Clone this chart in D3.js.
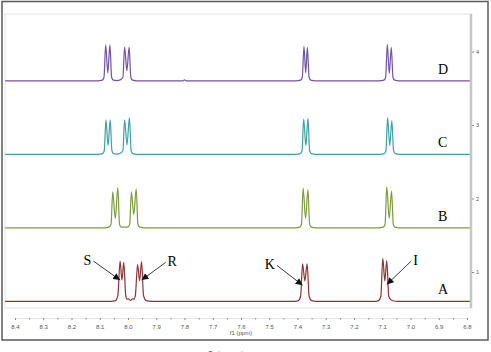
<!DOCTYPE html>
<html>
<head>
<meta charset="utf-8">
<script src="https://cdn.jsdelivr.net/npm/d3@7/dist/d3.min.js"></script>
<style>
  body { margin: 0; background: #fff; }
  svg { display: block; }
  .xaxis text, .yaxis text { font-family: "Liberation Sans", Arial, sans-serif; fill: #555; }
  .xaxis line, .yaxis line { stroke: #888; }
</style>
</head>
<body>
<div id="chart"></div>
<script>
// ppm ticks along the bottom, intensity ticks on the right
var ppmTicks = [8.4, 8.3, 8.2, 8.1, 8.0, 7.9, 7.8, 7.7, 7.6, 7.5, 7.4, 7.3, 7.2, 7.1, 7.0, 6.9, 6.8];
var ppmMinor = [8.35, 8.25, 8.15, 8.05, 7.95, 7.85, 7.75, 7.65, 7.55, 7.45, 7.35, 7.25, 7.15, 7.05, 6.95, 6.85];
var intTicks = [1, 2, 3, 4];

var traceNames = ["A", "B", "C", "D"];
var traceOffsets = [0.6, 1.6, 2.6, 3.6];
var traceColors = ["#8a3535", "#7b9c3f", "#3da2a2", "#7252a2"];

// spectra: [ppm, intensity]
var specA = [
  [8.435, 0], [8.060, 0], [8.045, 0.01], [8.036, 0.08], [8.028, 0.55], [8.0215, 0.29], [8.015, 0.53],
  [8.008, 0.08], [8.003, 0.03], [7.998, 0.035], [7.991, 0.015], [7.984, 0.035], [7.979, 0.03],
  [7.974, 0.08], [7.966, 0.50], [7.959, 0.28], [7.952, 0.54], [7.945, 0.08], [7.935, 0.01], [7.915, 0],
  [7.410, 0], [7.397, 0.01], [7.389, 0.07], [7.382, 0.51], [7.374, 0.28], [7.366, 0.51], [7.359, 0.07],
  [7.350, 0.01], [7.335, 0],
  [7.125, 0], [7.113, 0.01], [7.105, 0.07], [7.098, 0.585], [7.091, 0.28], [7.084, 0.555], [7.077, 0.07],
  [7.068, 0.02], [7.060, 0.005], [7.045, 0], [6.790, 0]
];
var specB = [
  [8.435, 0], [8.082, 0], [8.068, 0.01], [8.060, 0.05], [8.054, 0.49], [8.045, 0.13], [8.036, 0.55],
  [8.030, 0.05], [8.024, 0.01], [8.012, 0.01], [8.001, 0.01], [7.994, 0.05], [7.988, 0.49], [7.9795, 0.18],
  [7.971, 0.53], [7.965, 0.05], [7.958, 0.01], [7.940, 0],
  [7.408, 0], [7.392, 0.01], [7.386, 0.05], [7.380, 0.54], [7.3715, 0.13], [7.363, 0.52], [7.357, 0.05],
  [7.351, 0.01], [7.335, 0],
  [7.112, 0], [7.096, 0.01], [7.090, 0.05], [7.084, 0.56], [7.0755, 0.13], [7.067, 0.50], [7.061, 0.05],
  [7.055, 0.01], [7.039, 0], [6.790, 0]
];
var specC = [
  [8.435, 0], [8.106, 0], [8.090, 0.01], [8.084, 0.05], [8.078, 0.47], [8.0705, 0.12], [8.063, 0.47],
  [8.057, 0.05], [8.051, 0.01], [8.040, 0.005], [8.030, 0.01], [8.018, 0.05], [8.012, 0.47], [8.0035, 0.13],
  [7.995, 0.50], [7.989, 0.05], [7.983, 0.01], [7.968, 0],
  [7.406, 0], [7.390, 0.01], [7.384, 0.05], [7.378, 0.48], [7.3705, 0.12], [7.363, 0.49], [7.357, 0.05],
  [7.351, 0.01], [7.335, 0],
  [7.109, 0], [7.093, 0.01], [7.087, 0.05], [7.081, 0.50], [7.0735, 0.12], [7.066, 0.46], [7.060, 0.05],
  [7.054, 0.01], [7.038, 0], [6.790, 0]
];
var specD = [
  [8.435, 0], [8.107, 0], [8.091, 0.01], [8.085, 0.05], [8.079, 0.49], [8.0715, 0.11], [8.064, 0.49],
  [8.058, 0.05], [8.052, 0.01], [8.040, 0.005], [8.030, 0.01], [8.018, 0.05], [8.012, 0.46], [8.004, 0.14],
  [7.996, 0.46], [7.990, 0.05], [7.984, 0.01], [7.969, 0],
  [7.806, 0], [7.800, 0.015], [7.794, 0],
  [7.405, 0], [7.389, 0.01], [7.383, 0.05], [7.377, 0.47], [7.371, 0.11], [7.365, 0.455], [7.359, 0.05],
  [7.353, 0.01], [7.337, 0],
  [7.110, 0], [7.094, 0.01], [7.088, 0.05], [7.082, 0.495], [7.075, 0.10], [7.068, 0.455], [7.062, 0.05],
  [7.056, 0.01], [7.040, 0], [6.790, 0]
];
var spectra = [specA, specB, specC, specD];

// labelled peaks on trace A: [label, ppm of text, intensity of text, ppm of arrow tip, intensity of tip]
var peakLabels = [
  ["S", 8.13, 0.55, 8.028, 0.29],
  ["R", 7.86, 0.53, 7.952, 0.29],
  ["K", 7.48, 0.49, 7.382, 0.22],
  ["I", 6.99, 0.55, 7.084, 0.23]
];

var W = 491, H = 352;
var svg = d3.select("#chart").append("svg")
    .attr("width", W)
    .attr("height", H);

svg.append("defs").append("marker")
    .attr("id", "arrow")
    .attr("viewBox", "0 0 10 10")
    .attr("refX", 10).attr("refY", 5)
    .attr("markerWidth", 7).attr("markerHeight", 7)
    .attr("markerUnits", "userSpaceOnUse")
    .attr("orient", "auto")
  .append("path")
    .attr("d", "M0,0L10,5L0,10z")
    .attr("fill", "#111");

var x = d3.scaleLinear().domain([8.4, 6.8]).range([15, 467]);
var y = d3.scaleLinear().domain([1, 4]).range([272, 51.5]);

// outer border and inner frame
svg.append("rect")
    .attr("x", 2).attr("y", 1.5).attr("width", 486).attr("height", 338.5)
    .attr("fill", "none").attr("stroke", "#5a5a5a").attr("stroke-width", 1.5);
svg.append("rect")
    .attr("x", 5).attr("y", 14).attr("width", 466).attr("height", 294)
    .attr("fill", "none").attr("stroke", "#e4e4e4").attr("stroke-width", 1);
svg.append("line")
    .attr("x1", 471).attr("x2", 471).attr("y1", 14).attr("y2", 308)
    .attr("stroke", "#c6c6c6").attr("stroke-width", 2.5);

// x axis
var gx = svg.append("g").attr("class", "xaxis")
    .attr("transform", "translate(0,318)")
    .call(d3.axisBottom(x).tickValues(ppmTicks).tickSize(2).tickPadding(5).tickFormat(d3.format(".1f")));
gx.select(".domain").attr("stroke", "#e8e8e8");
gx.selectAll("text").style("font-size", "6px");
svg.append("g").attr("class", "xaxis")
    .attr("transform", "translate(0,318)")
    .call(d3.axisBottom(x).tickValues(ppmMinor).tickSize(1.5).tickFormat(""))
    .select(".domain").remove();
svg.append("text")
    .attr("x", x(7.6)).attr("y", 335)
    .attr("text-anchor", "middle")
    .style("font-family", "Liberation Sans, Arial, sans-serif")
    .style("font-size", "6px").style("fill", "#555")
    .text("f1 (ppm)");

// right axis
var gy = svg.append("g").attr("class", "yaxis")
    .attr("transform", "translate(472,0)")
    .call(d3.axisRight(y).tickValues(intTicks).tickSize(2).tickPadding(2).tickFormat(d3.format("d")));
gy.select(".domain").remove();
gy.selectAll("text").style("font-size", "5.5px");

// spectra
var line = d3.line()
    .x(function(d) { return x(d[0]); })
    .y(function(d) { return d[1]; })
    .curve(d3.curveMonotoneX);

spectra.forEach(function(s, i) {
  var off = traceOffsets[i];
  svg.append("path")
      .datum(s.map(function(p) { return [p[0], y(p[1] + off)]; }))
      .attr("d", line)
      .attr("fill", "none")
      .attr("stroke", traceColors[i])
      .attr("stroke-width", 1.2)
      .attr("stroke-linejoin", "round");

  svg.append("text")
      .attr("x", 438)
      .attr("y", y(off) - 7)
      .style("font-family", "Liberation Serif, 'Times New Roman', serif")
      .style("font-size", "14px")
      .style("fill", "#000")
      .text(traceNames[i]);
});

// S R K I arrows on trace A
var offA = traceOffsets[0];
peakLabels.forEach(function(p) {
  var tx = x(p[1]), ty = y(p[2] + offA);
  var ax = x(p[3]), ay = y(p[4] + offA);
  var left = tx < ax;
  svg.append("text")
      .attr("x", tx)
      .attr("y", ty + 4)
      .attr("text-anchor", left ? "end" : "start")
      .style("font-family", "Liberation Serif, 'Times New Roman', serif")
      .style("font-size", "14px")
      .style("fill", "#000")
      .text(p[0]);
  svg.append("line")
      .attr("x1", left ? tx + 2 : tx - 2).attr("y1", ty)
      .attr("x2", ax).attr("y2", ay)
      .attr("stroke", "#222").attr("stroke-width", 0.9)
      .attr("marker-end", "url(#arrow)");
});

// caption below the frame, cut off by the bottom edge as in the source image
svg.append("text")
    .attr("x", 226).attr("y", 360)
    .attr("text-anchor", "middle")
    .style("font-family", "Liberation Serif, 'Times New Roman', serif")
    .style("font-size", "12px")
    .style("fill", "#222")
    .text("δ (ppm)");
</script>
</body>
</html>
